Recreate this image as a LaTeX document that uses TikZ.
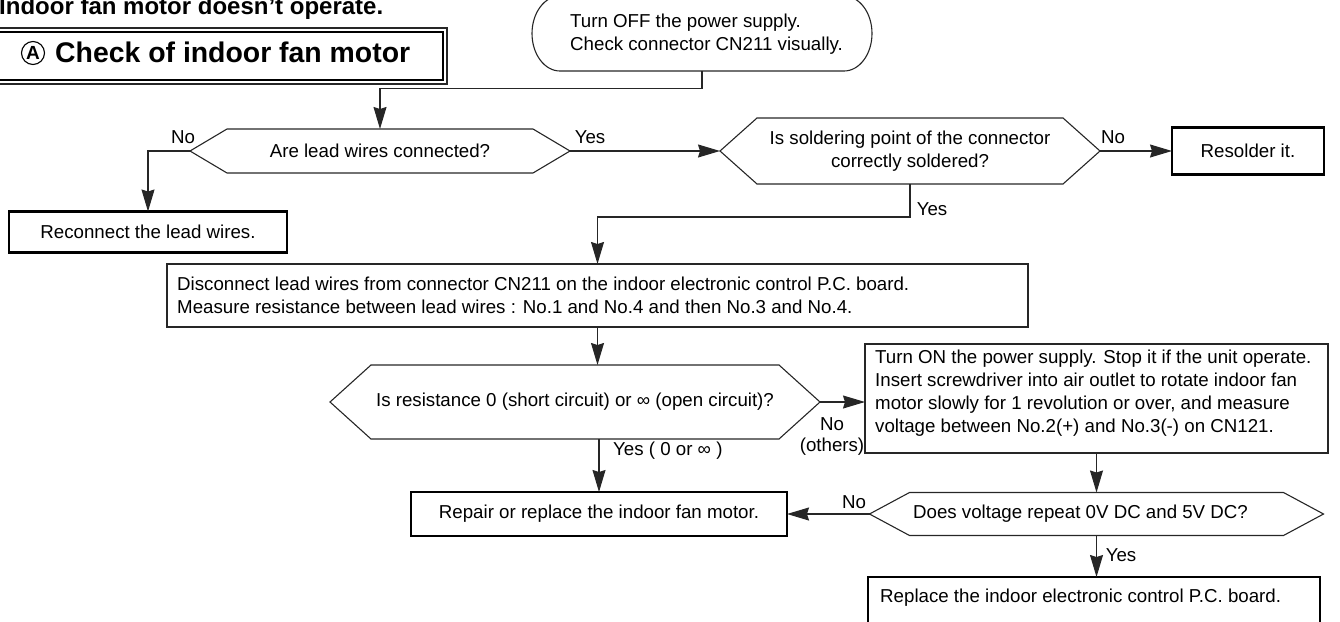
\documentclass[tikz,border=0pt]{standalone}
\usepackage{fontspec}
\setmainfont{Liberation Sans}
\usetikzlibrary{arrows.meta,calc}
\newcommand\tf{\fontsize{18.7}{23}\selectfont}
\newcommand\hexo[2]{\draw[ln] (#1.west) -- ([xshift=#2]#1.north west) -- ([xshift=-#2]#1.north east) -- (#1.east) -- ([xshift=-#2]#1.south east) -- ([xshift=#2]#1.south west) -- cycle;}
\tikzset{
  ln/.style={line width=1.1pt, draw=black!85},
  arr/.style={ln, -{Stealth[length=22pt,width=13pt,inset=2pt]}},
  thinbox/.style={draw=black!85, line width=1.1pt, rectangle, inner sep=0pt, outer sep=0pt},
  thickbox/.style={draw=black, line width=2.8pt, rectangle, inner sep=0pt, outer sep=0pt},
  hexnode/.style={rectangle, inner sep=0pt, outer sep=0pt, align=center},
  lbl/.style={inner sep=0pt, font=\tf},
}
\begin{document}
\begin{tikzpicture}[x=1pt,y=-1pt]
\useasboundingbox (0,0) rectangle (1340,621);
% title
\node[anchor=base west, inner sep=0pt, font=\bfseries\fontsize{24}{24}\selectfont] (title) at (-1,14.5) {Indoor fan motor doesn’t operate.};
% header box
\node[thickbox, minimum width=453pt, minimum height=48pt] (hdr) at (216.5,56) {};
\draw[ln] ([shift={(0pt,4pt)}]hdr.north west) rectangle ([shift={(4pt,-4pt)}]hdr.south east);
\node[circle, draw, line width=1.1pt, minimum size=23pt, inner sep=0pt, font=\bfseries\fontsize{19}{19}\selectfont] (circA) at (33,53) {A};
\node[anchor=base west, inner sep=0pt, font=\bfseries\fontsize{28.4}{28}\selectfont] (hdrtext) at (55,62) {Check of indoor fan motor};
% start terminal
\node[hexnode, minimum width=340pt, minimum height=75pt] (start) at (702,33.5) {};
\draw[ln] ([xshift=28pt]start.north west) -- ([xshift=-28pt]start.north east) arc[start angle=90,end angle=-90,x radius=28pt,y radius=37.5pt] -- ([xshift=28pt]start.south west) arc[start angle=-90,end angle=-270,x radius=28pt,y radius=37.5pt] -- cycle;
\node[anchor=west, align=left, font=\tf, inner sep=0pt] (starttext) at (570,34) {Turn OFF the power supply.\\Check connector CN211 visually.};
% decision 1
\node[hexnode, minimum width=380pt, minimum height=44pt, font=\tf] (d1) at (380,151) {Are lead wires connected?};
\hexo{d1}{37pt}
% decision 2
\node[hexnode, minimum width=380pt, minimum height=66pt, font=\tf] (d2) at (910,151) {Is soldering point of the connector\\correctly soldered?};
\hexo{d2}{37pt}
\node[thickbox, minimum width=152pt, minimum height=47pt, font=\tf] (resolder) at (1248,151) {Resolder it.};
\node[thickbox, minimum width=278pt, minimum height=41pt, font=\tf] (reconnect) at (148,232) {Reconnect the lead wires.};
% measure box
\node[thinbox, minimum width=861pt, minimum height=63pt] (meas) at (597.5,295.5) {};
\node[anchor=west, align=left, font=\tf, inner sep=0pt] (meastext) at (177,295.5) {Disconnect lead wires from connector CN211 on the indoor electronic control P.C. board.\\Measure resistance between lead wires : No.1 and No.4 and then No.3 and No.4.};
% decision 3
\node[hexnode, minimum width=490pt, minimum height=74pt, font=\tf] (d3) at (575,402) {Is resistance 0 (short circuit) or ∞ (open circuit)?};
\hexo{d3}{41pt}
% turn on box
\node[thinbox, minimum width=463pt, minimum height=109pt] (turnon) at (1096.5,398.5) {};
\node[anchor=west, align=left, font=\tf, inner sep=0pt] (turnontext) at (875,393) {Turn ON the power supply. Stop it if the unit operate.\\Insert screwdriver into air outlet to rotate indoor fan\\motor slowly for 1 revolution or over, and measure\\voltage between No.2(+) and No.3(-) on CN121.};
% decision 4
\node[hexnode, minimum width=454pt, minimum height=43pt] (d4) at (1096.5,514) {};
\hexo{d4}{40pt}
\node[lbl] (d4text) at ([xshift=-16pt]d4.center) {Does voltage repeat 0V DC and 5V DC?};
\node[thickbox, minimum width=376pt, minimum height=44pt, font=\tf] (repair) at (599,514) {Repair or replace the indoor fan motor.};
\node[thickbox, minimum width=452pt, minimum height=66pt] (replace) at (1094,610) {};
\node[anchor=west, font=\tf, inner sep=0pt] (replacetext) at (880,598) {Replace the indoor electronic control P.C. board.};
% connectors
\draw[arr] (start.south) -- ++(0,17.5) -| (d1.north);
\draw[arr] (d1.west) -| (reconnect.north);
\draw[arr] (d1.east) -- (d2.west);
\draw[arr] (d2.east) -- (resolder.west);
\draw[arr] (d2.south) -- ++(0,33) -| (meas.north);
\draw[arr] (meas.south) -- (meas.south |- d3.north);
\draw[arr] (d3.east) -- (d3.east -| turnon.west);
\draw[arr] (repair.north |- d3.south) -- (repair.north);
\draw[arr] (turnon.south) -- (d4.north);
\draw[arr] (d4.west) -- (repair.east);
\draw[arr] (d4.south) -- (d4.south |- replace.north);
% labels
\node[lbl] (l1) at (183,137) {No};
\node[lbl] (l2) at (590,137) {Yes};
\node[lbl] (l3) at (1113,137) {No};
\node[lbl] (l4) at (932,209) {Yes};
\node[lbl, align=center, font=\fontsize{18.7}{21}\selectfont] (l5) at (832,436) {No\\(others)};
\node[lbl, anchor=west] (l6) at (613,451) {Yes ( 0 or ∞ )};
\node[lbl] (l7) at (854,502) {No};
\node[lbl] (l8) at (1121,555) {Yes};
\end{tikzpicture}
\end{document}
